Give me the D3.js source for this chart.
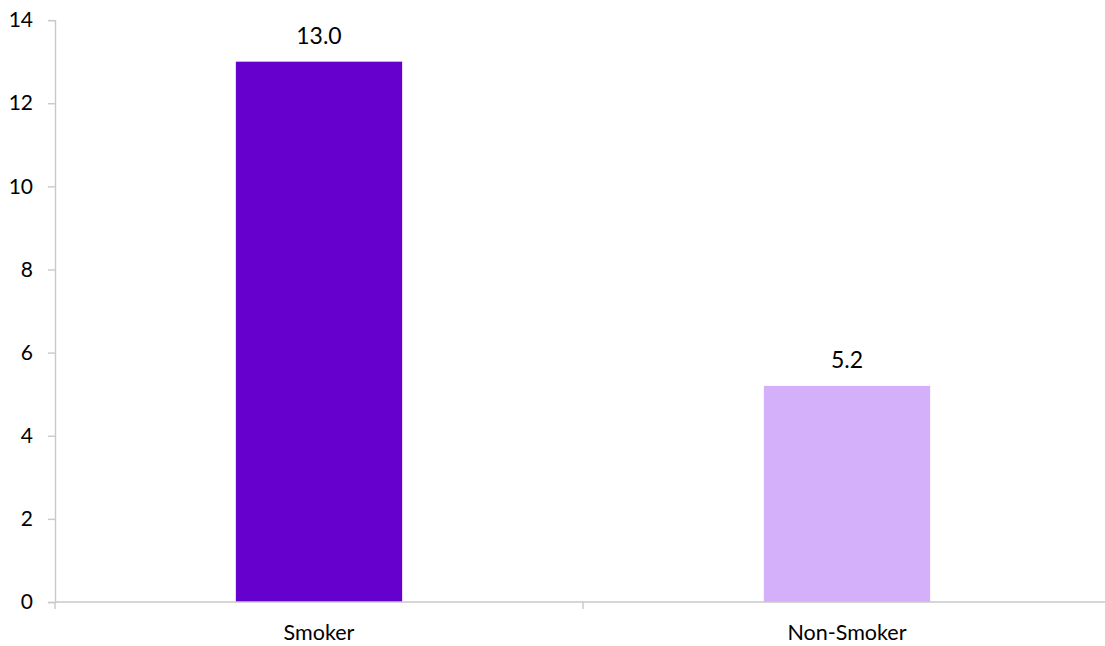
<!DOCTYPE html>
<html>
<head>
<meta charset="utf-8">
<script src="https://cdn.jsdelivr.net/npm/d3@7"></script>
<style>
  html, body { margin: 0; padding: 0; background: #ffffff; }
  svg { display: block; }
  text { font-family: Lato, "Liberation Sans", sans-serif; fill: #000; }
</style>
</head>
<body>
<svg id="chart" width="1105" height="646"></svg>
<script>
const categories = ["Smoker", "Non-Smoker"];
const values = [13.0, 5.2];
const barColors = ["#6600CC", "#D5B0FA"];
const yTicks = [0, 2, 4, 6, 8, 10, 12, 14];

(function () {
const svg = d3.select("#chart");
const mLeft = 55, mRight = 1111, mTop = 20.1, mBottom = 602;

const x = d3.scaleBand().domain(categories).range([mLeft, mRight]).padding(0);
const y = d3.scaleLinear().domain([0, 14]).range([mBottom, mTop]);
const axisColor = "#c9c9c9";
const barW = x.bandwidth() * 0.315;

// y axis
const yAxis = svg.append("g").attr("transform", `translate(${mLeft},0)`)
  .call(d3.axisLeft(y).tickValues(yTicks).tickSize(7).tickPadding(15).tickFormat(d3.format("d")));
yAxis.select(".domain").attr("stroke", axisColor).attr("stroke-width", 1.4);
yAxis.selectAll(".tick line").attr("stroke", axisColor).attr("stroke-width", 1.4);
yAxis.selectAll(".tick text").attr("font-size", 21).attr("font-family", "Lato, 'Liberation Sans', sans-serif").attr("fill", "#000");

// bars
svg.selectAll("rect.bar").data(categories).enter().append("rect")
  .attr("class", "bar")
  .attr("x", (d) => x(d) + (x.bandwidth() - barW) / 2)
  .attr("width", barW)
  .attr("y", (d, i) => y(values[i]))
  .attr("height", (d, i) => y(0) - y(values[i]))
  .attr("fill", (d, i) => barColors[i]);

// x axis
const xAxisG = svg.append("g").attr("transform", `translate(0,${mBottom})`);
xAxisG.append("line").attr("x1", mLeft).attr("x2", mRight).attr("y1", 0).attr("y2", 0)
  .attr("stroke", axisColor).attr("stroke-width", 1.4);
const boundaries = [mLeft].concat(categories.map(c => x(c) + x.bandwidth()));
xAxisG.selectAll("line.tk").data(boundaries).enter().append("line")
  .attr("class", "tk").attr("x1", d => d).attr("x2", d => d).attr("y1", 0).attr("y2", 7)
  .attr("stroke", axisColor).attr("stroke-width", 1.4);
xAxisG.selectAll("text.cat").data(categories).enter().append("text")
  .attr("class", "cat")
  .attr("x", d => x(d) + x.bandwidth() / 2)
  .attr("y", 38)
  .attr("text-anchor", "middle")
  .attr("font-size", 21.5)
  .text(d => d);

// value labels
svg.selectAll("text.val").data(categories).enter().append("text")
  .attr("class", "val")
  .attr("x", d => x(d) + x.bandwidth() / 2)
  .attr("y", (d, i) => y(values[i]) - 18)
  .attr("text-anchor", "middle")
  .attr("font-size", 23)
  .text((d, i) => d3.format(".1f")(values[i]));
})();
</script>
</body>
</html>
